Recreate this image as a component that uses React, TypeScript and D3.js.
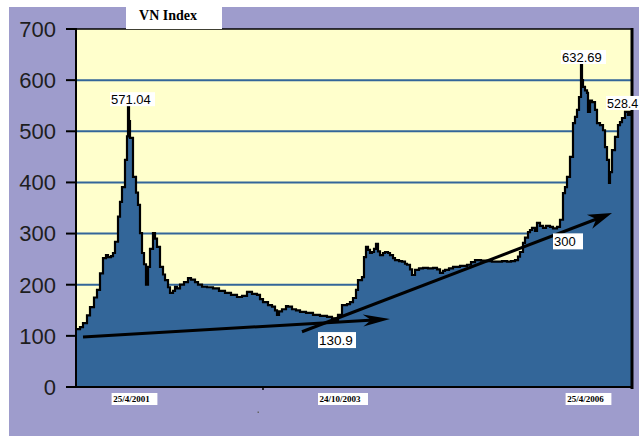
import React from "react";
import * as d3 from "d3";

// session index (0 .. 556) and VN-Index closing value
const sessionIdx = [
  0, 4, 7, 11, 14, 18, 21, 24, 27, 30, 32, 35, 37, 39, 42, 44, 46, 49, 51, 52, 53, 54, 57, 60, 62, 64, 66, 68,
  70, 72, 74, 77, 79, 81, 84, 87, 89, 92, 94, 97, 99, 101, 104, 108, 112, 115, 119, 122, 126, 131, 137, 143,
  149, 155, 161, 166, 171, 176, 181, 184, 187, 192, 196, 199, 201, 203, 206, 210, 212, 216, 220, 224, 230, 237,
  244, 251, 256, 259, 262, 266, 271, 274, 277, 280, 282, 286, 288, 290, 292, 294, 296, 298, 300, 302, 304, 307,
  309, 312, 314, 317, 319, 323, 326, 329, 331, 334, 336, 339, 343, 347, 352, 357, 361, 364, 367, 369, 373, 377,
  384, 391, 395, 399, 405, 411, 416, 421, 426, 431, 435, 439, 442, 444, 447, 449, 452, 454, 456, 459, 461, 464,
  467, 470, 474, 477, 481, 484, 487, 489, 491, 494, 497, 499, 501, 503, 505, 506, 507, 509, 511, 512, 514, 516,
  519, 521, 524, 527, 529, 531, 533, 534, 536, 539, 542, 544, 546, 549, 552, 554, 555,
];
const vnValues = [
  113, 117, 125, 140, 156, 175, 190, 222, 252, 258, 254, 256, 262, 284, 333, 362, 391, 444, 490, 571, 520, 487,
  411, 380, 356, 301, 262, 240, 200, 235, 270, 301, 290, 274, 235, 220, 209, 195, 184, 188, 196, 193, 200, 205,
  213, 210, 205, 200, 196, 195, 193, 188, 184, 180, 176, 178, 186, 182, 180, 172, 166, 160, 157, 150, 141, 148,
  152, 158, 157, 152, 150, 147, 145, 141, 139, 137, 134, 131, 141, 160, 162, 166, 174, 190, 209, 215, 254, 274,
  268, 262, 264, 270, 280, 265, 258, 262, 264, 262, 258, 252, 248, 246, 245, 241, 239, 230, 219, 229, 232, 233,
  232, 233, 230, 223, 227, 229, 232, 235, 237, 239, 244, 248, 247, 246, 245, 245, 246, 245, 246, 248, 255, 264,
  282, 292, 303, 307, 311, 305, 321, 315, 311, 315, 313, 310, 313, 327, 379, 391, 411, 450, 516, 528, 542, 567,
  632, 600, 587, 580, 575, 538, 560, 557, 542, 516, 512, 502, 469, 444, 399, 420, 463, 489, 512, 518, 526, 538,
  532, 538, 535,
];

const yTicks = [0, 100, 200, 300, 400, 500, 600, 700];
const gridValues = [100, 200, 300, 400, 500, 600];
const xTickLabels = ["25/4/2001", "24/10/2003", "25/4/2006"];
const xTickSessions = [55.5, 264, 509.5];
const minorTickSessions = [187];

// peak annotations: text, session of box left edge, value at text baseline
const peakLabels = ["571.04", "632.69", "528.4"];
const peakLeftSessions = [34, 485, 530];
const peakBaseValues = [553, 635.5, 545.6];

const trendStart = [
  [7, 98],
  [226, 108],
];
const trendEnd = [
  [314, 133],
  [536, 340],
];
const trendLabels = ["130.9", "300"];
const trendLabelPos = [
  [242, 82],
  [477, 275],
];

const W = 639;
const H = 437;
const LAV = "#9e9ccc";
const YEL = "#ffffcc";
const BLUE = "#336699";

export default function App() {
  const x = d3.scaleLinear().domain([0, 556]).range([76, 632]);
  const y = d3.scaleLinear().domain([0, 700]).range([387, 29]);

  const pts = sessionIdx.map((s, i) => [s, vnValues[i]] as [number, number]);
  const area = d3
    .area<[number, number]>()
    .curve(d3.curveStepAfter)
    .x((d) => x(d[0]))
    .y0(y(0))
    .y1((d) => y(d[1]))(pts) as string;
  const line = d3
    .line<[number, number]>()
    .curve(d3.curveStepAfter)
    .x((d) => x(d[0]))
    .y((d) => y(d[1]))(pts) as string;

  const arrowHead = (x1: number, y1: number, x2: number, y2: number, len: number, hw: number) => {
    const a = Math.atan2(y2 - y1, x2 - x1);
    const c = Math.cos(a),
      s = Math.sin(a);
    const bx = x2 - len * c,
      by = y2 - len * s;
    const nx = x2 - len * 0.7 * c,
      ny = y2 - len * 0.7 * s;
    return `M${x2},${y2}L${bx - hw * s},${by + hw * c}L${nx},${ny}L${bx + hw * s},${by - hw * c}Z`;
  };

  return (
    <svg
      width={W}
      height={H}
      style={{ position: "absolute", left: 0, top: 0, background: "#fff" }}
    >
      <rect x={9} y={7} width={W - 9} height={429} fill={LAV} />
      <rect x={76} y={29} width={556} height={358} fill={YEL} />
      {gridValues.map((v) => (
        <line key={v} x1={76} x2={632} y1={y(v)} y2={y(v)} stroke={BLUE} strokeWidth={2} />
      ))}
      <path d={area} fill={BLUE} />
      <path d={line} fill="none" stroke="#000" strokeWidth={2.2} strokeLinejoin="miter" />

      {/* frame */}
      <line x1={76} x2={632} y1={29} y2={29} stroke="#000" strokeWidth={1.5} />
      <line x1={632} x2={632} y1={28} y2={389} stroke="#000" strokeWidth={3} />
      <line x1={76} x2={76} y1={28} y2={388} stroke="#000" strokeWidth={2} />
      <line x1={66} x2={633} y1={387} y2={387} stroke="#000" strokeWidth={2} />

      {yTicks.map((v) => (
        <g key={v}>
          <line x1={66} x2={76} y1={y(v)} y2={y(v)} stroke="#000" strokeWidth={2} />
          <text
            x={56}
            y={y(v)}
            dy="0.36em"
            textAnchor="end"
            fontFamily="Liberation Sans, Arial, sans-serif"
            fontSize={22}
            fill="#1e1e1e"
          >
            {v}
          </text>
        </g>
      ))}

      {minorTickSessions.map((s) => (
        <line key={s} x1={x(s)} x2={x(s)} y1={386} y2={390} stroke="#000" strokeWidth={1.5} />
      ))}

      {xTickLabels.map((lab, i) => {
        const cx = x(xTickSessions[i]);
        const w = lab.length * 4.2;
        return (
          <g key={lab}>
            <rect x={cx - w / 2 - 1} y={393} width={w + 8} height={12} fill="#fff" />
            <text
              x={cx}
              y={401.5}
              textAnchor="middle"
              fontFamily="Liberation Serif, Times New Roman, serif"
              fontWeight="bold"
              fontSize={9}
              fill="#000"
            >
              {lab}
            </text>
          </g>
        );
      })}

      {/* title */}
      <rect x={126} y={7} width={96} height={22} fill="#fff" />
      <text
        x={168}
        y={20}
        textAnchor="middle"
        fontFamily="Liberation Serif, Times New Roman, serif"
        fontWeight="bold"
        fontSize={14}
        fill="#000"
      >
        VN Index
      </text>

      {/* peak labels */}
      {peakLabels.map((lab, i) => {
        const left = x(peakLeftSessions[i]);
        const base = y(peakBaseValues[i]);
        return (
          <g key={lab}>
            <rect x={left} y={base - 12} width={45} height={14} fill="#fff" />
            <text
              x={left + 1}
              y={base}
              fontFamily="Liberation Sans, Arial, sans-serif"
              fontSize={i === 2 ? 12.5 : 13}
              fill="#000"
            >
              {lab}
            </text>
          </g>
        );
      })}

      {/* trend arrows */}
      {trendStart.map((st, i) => {
        const x1 = x(st[0]),
          y1 = y(st[1]);
        const x2 = x(trendEnd[i][0]),
          y2 = y(trendEnd[i][1]);
        const len = i === 0 ? 27 : 24;
        const hw = i === 0 ? 6 : 7.5;
        const a = Math.atan2(y2 - y1, x2 - x1);
        return (
          <g key={i}>
            <line
              x1={x1}
              y1={y1}
              x2={x2 - len * 0.6 * Math.cos(a)}
              y2={y2 - len * 0.6 * Math.sin(a)}
              stroke="#000"
              strokeWidth={3}
            />
            <path d={arrowHead(x1, y1, x2, y2, len, hw)} fill="#000" />
          </g>
        );
      })}
      {trendLabels.map((lab, i) => {
        const lx = x(trendLabelPos[i][0]);
        const ly = y(trendLabelPos[i][1]);
        const w = i === 0 ? 38 : 30;
        return (
          <g key={lab}>
            <rect x={lx} y={ly - 13} width={w} height={16} fill="#fff" />
            <text
              x={lx + 1}
              y={ly}
              fontFamily="Liberation Sans, Arial, sans-serif"
              fontSize={i === 0 ? 13.5 : 13}
              fill="#000"
            >
              {lab}
            </text>
          </g>
        );
      })}
      <rect x={257.5} y={411.5} width={1.5} height={1.5} fill="#666" />
    </svg>
  );
}
